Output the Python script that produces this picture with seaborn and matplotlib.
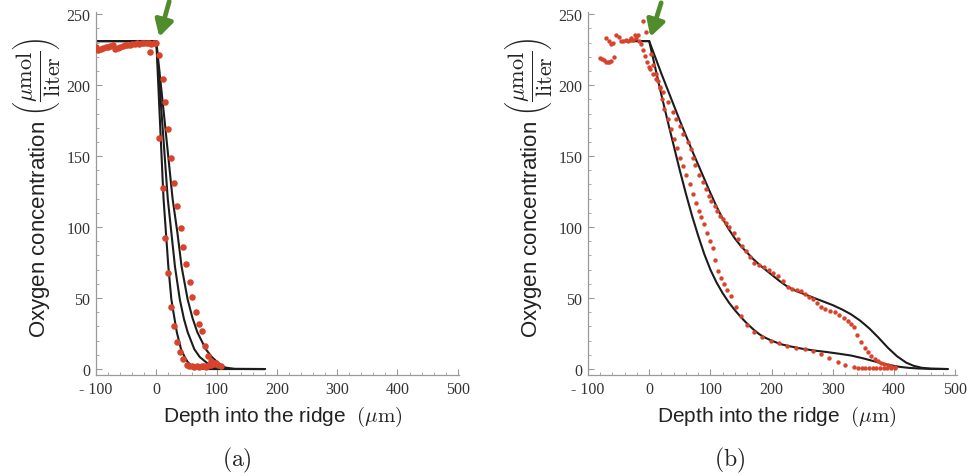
import matplotlib
matplotlib.use("Agg")
import matplotlib.pyplot as plt
import seaborn as sns
import pandas as pd
from matplotlib.ticker import MultipleLocator, FixedLocator, FixedFormatter

# ---------------- data: panel (a) ----------------
a_fit1_x = [-100, 0, 6, 12, 16, 20, 25, 30, 34, 41, 47, 52, 59, 66, 75, 90, 180]
a_fit1_y = [231, 231, 175, 120, 96, 72, 49, 36, 26, 14, 8.5, 5, 2, 0.6, 0.1, 0, 0]
a_fit2_x = [-100, 0, 10, 19, 25, 31, 39, 46, 52, 63, 72, 82, 90, 96, 110, 180]
a_fit2_y = [231, 231, 173, 120, 96, 72, 49, 35, 26, 14, 8.5, 5, 2.5, 1, 0.1, 0]
a_fit3_x = [-100, 0, 14, 27, 35, 42, 52, 60, 68, 82, 92, 101, 108, 115, 130, 180]
a_fit3_y = [231, 231, 174, 120, 96, 72, 49, 36, 26, 14, 8.5, 5, 2.5, 1, 0.1, 0]

a_pre_x = [-100, -96, -92, -88, -84, -80, -76, -72, -68, -64, -60, -56, -52, -48, -44,
           -40, -36, -32, -28, -24, -20, -16, -12, -8, -4, -1]
a_pre_y = [226.5, 225, 225.5, 226, 226.5, 227, 227.5, 228, 225.5, 226, 226.5, 227.5, 228,
           228, 228.5, 229, 229, 229.5, 229, 229.5, 230, 229.5, 229.5, 229, 229.5, 229.5]
a_out_x = [5, 10.5, 15, 20, 25, 30, 35, 41, 45, 50, 56, 60, 66, 70, 75.5, 80.5, 85, 90,
           95, 99, 103, 107]
a_out_y = [221.5, 204, 188, 169, 149, 131, 115, 99, 86, 74, 61, 50.5, 40, 32, 26.5, 16,
           9.5, 6, 4, 4.5, 3, 2]
a_in_x = [-10, 5, 10.5, 15, 20, 25, 30, 35, 40, 45, 51, 55, 59, 63, 67, 71, 75, 79, 83,
          87, 91, 95]
a_in_y = [223, 163, 127.5, 92, 68, 44, 30, 19, 12, 7, 3, 2, 2, 1.5, 2, 1.5, 2, 2, 1.5,
          2.5, 3, 3.5]

# ---------------- data: panel (b) ----------------
b_fit1_x = [-45, 0, 10, 20, 30, 40, 50, 60, 70, 80, 90, 100, 110, 120, 130, 140, 150,
            160, 170, 180, 190, 200, 215, 230, 250, 270, 290, 310, 330, 350, 370, 390,
            410, 425, 440, 460, 488]
b_fit1_y = [231, 231, 212, 193, 175, 157.5, 140, 123.5, 108, 94, 81, 70, 61, 53.5, 47,
            41.5, 36.5, 32, 28, 24.5, 22, 20, 17.5, 16, 14.3, 13, 12, 10.8, 9.5, 7.5,
            5.2, 3, 1.5, 0.8, 0.4, 0.1, 0]
b_fit2_x = [-45, 0, 10, 20, 30, 40, 50, 60, 70, 80, 90, 100, 110, 120, 130, 140, 150,
            160, 170, 180, 190, 200, 213, 226, 240, 255, 270, 285, 300, 315, 330, 345,
            360, 375, 390, 405, 420, 432, 445, 460, 488]
b_fit2_y = [231, 231, 219.5, 208, 197, 186, 175, 164.5, 154, 144, 134, 124, 114.5, 106,
            98.5, 92, 86.5, 82, 77.5, 73.5, 70, 66.5, 62, 58, 55, 52.5, 50, 47.5, 45, 42,
            38.5, 34, 28.5, 22, 15, 9, 4.5, 2.3, 0.9, 0.3, 0]

b_pre_x = [-80, -77, -74, -71, -68, -65, -62, -57, -70, -66, -63, -59, -54, -50, -46,
           -42, -38, -35, -31, -29, -26, -24, -21, -18, -16, -10, -5]
b_pre_y = [219, 218.5, 218, 216.5, 216, 216.5, 217, 219.5, 233, 231, 229, 230, 235, 234,
           231, 231, 232, 231, 232, 233, 232, 235, 233, 235, 231, 245, 237.5]
b_lo_x = [-14, -10, -7.6, -4, -1, 2, 6, 11, 17, 21, 25, 30, 36, 41, 46, 51, 56, 60.5, 66,
          71, 77, 81, 85, 90, 95, 100, 104, 108, 112, 117, 122, 127, 134, 142, 150, 160,
          172, 185, 199, 212, 226, 240, 254, 267, 281, 294, 308, 320, 335, 341, 347, 353,
          359, 365, 371, 377, 383, 389, 395, 401]
b_lo_y = [229, 225, 220.6, 216, 213, 211, 208, 204, 198, 190, 183, 176, 169, 162, 156,
          149, 143, 137, 130, 123, 117, 111.5, 107, 102, 96, 90, 85, 77, 69, 64, 60, 56,
          51.6, 44, 37.5, 31, 26, 22.5, 20, 18, 16.4, 15, 14, 12.5, 10.6, 8, 4.7, 2.5,
          1.2, 1, 1, 1, 1, 1, 1, 1, 1, 1, 1, 1]
b_hi_x = [3, 7, 11, 15, 18, 22, 30.5, 38.7, 44, 51, 56, 63, 67.5, 71, 75, 82, 88, 93,
          98.5, 101, 107, 111, 116.5, 120, 126, 131, 138, 145, 152, 158, 165, 172, 180,
          188, 195, 202, 210, 218, 226.6, 234, 241, 248, 255, 261, 267.5, 274, 281, 288,
          295, 303, 310, 318, 325, 330, 335, 340, 346, 352, 358, 363, 369, 374, 379, 384,
          390, 395, 401]
b_hi_y = [222, 214, 208, 203, 199, 195, 188, 181, 176, 171, 165.5, 160, 155, 149, 143.7,
          137, 131.5, 127, 122, 118.5, 115, 111.5, 108, 105.6, 103, 99.8, 95.5, 91.5, 87,
          83, 79, 75, 73, 71.6, 70, 68, 65.7, 62, 57.5, 56.5, 56, 55, 53, 51, 49.3, 46.5,
          43.4, 42, 41, 40, 38, 36, 34, 32, 29.3, 24, 18.8, 15, 12, 9.4, 7, 5.5, 4.5, 3.5,
          2.5, 1.8, 1.2]

# ---------------- style ----------------
sns.set_theme(style="white")
plt.rcParams['font.family'] = ['Liberation Sans', 'DejaVu Sans']
plt.rcParams['mathtext.fontset'] = 'cm'

W, H = 969, 477
fig = plt.figure(figsize=(W / 100, H / 100), dpi=100)

RED = '#d8432b'
LINE = '#1c1c1c'
GREEN = '#4f8c2c'
AXC = '#9a9a9a'


def px_axes(x0, x1, y0, y1):
    return [x0 / W, 1 - y1 / H, (x1 - x0) / W, (y1 - y0) / H]


def style_axis(ax, xlim):
    ax.set_xlim(*xlim)
    ax.set_ylim(-4.2, 251.5)
    for s in ['top', 'right']:
        ax.spines[s].set_visible(False)
    for s in ['left', 'bottom']:
        ax.spines[s].set_color(AXC)
        ax.spines[s].set_linewidth(0.9)
    xt = [-100, 0, 100, 200, 300, 400, 500]
    ax.xaxis.set_major_locator(FixedLocator(xt))
    ax.xaxis.set_major_formatter(FixedFormatter(['- 100', '0', '100', '200', '300', '400', '500']))
    ax.xaxis.set_minor_locator(MultipleLocator(20))
    ax.yaxis.set_major_locator(FixedLocator([0, 50, 100, 150, 200, 250]))
    ax.yaxis.set_minor_locator(MultipleLocator(10))
    ax.tick_params(axis='both', which='major', direction='in', length=4, width=0.8,
                   color=AXC, labelsize=11.5, labelcolor='#333333', pad=4)
    ax.tick_params(axis='both', which='minor', direction='in', length=2, width=0.6,
                   color=AXC)
    ax.tick_params(axis='x', which='both', bottom=True)
    ax.tick_params(axis='y', which='both', left=True)
    for lab in ax.get_xticklabels() + ax.get_yticklabels():
        lab.set_fontfamily('Liberation Serif')
    ax.set_xlabel('')
    ax.set_ylabel('')
    ax.patch.set_alpha(0)


# ---------------- panel (a) ----------------
axA = fig.add_axes(px_axes(96, 459, 13, 376))
for fx, fy in [(a_fit1_x, a_fit1_y), (a_fit2_x, a_fit2_y), (a_fit3_x, a_fit3_y)]:
    sns.lineplot(x=fx, y=fy, ax=axA, color=LINE, lw=1.5, sort=False, estimator=None)
for sx, sy in [(a_pre_x, a_pre_y), (a_out_x, a_out_y), (a_in_x, a_in_y)]:
    sns.scatterplot(x=sx, y=sy, ax=axA, color=RED, s=22, linewidth=0, zorder=3)
style_axis(axA, (-100, 502))
axA.annotate('', xy=(5, 234), xytext=(21.5, 259), annotation_clip=False,
             arrowprops=dict(arrowstyle='-|>,head_length=0.8,head_width=0.45',
                             color=GREEN, lw=3.4, shrinkA=0, shrinkB=0))

# ---------------- panel (b) ----------------
axB = fig.add_axes(px_axes(588, 957, 13, 376))
for fx, fy in [(b_fit1_x, b_fit1_y), (b_fit2_x, b_fit2_y)]:
    sns.lineplot(x=fx, y=fy, ax=axB, color=LINE, lw=1.5, sort=False, estimator=None)
for sx, sy in [(b_pre_x, b_pre_y), (b_lo_x, b_lo_y), (b_hi_x, b_hi_y)]:
    sns.scatterplot(x=sx, y=sy, ax=axB, color=RED, s=10, linewidth=0, zorder=3)
style_axis(axB, (-100, 503))
axB.annotate('', xy=(2, 234), xytext=(19.6, 258), annotation_clip=False,
             arrowprops=dict(arrowstyle='-|>,head_length=0.8,head_width=0.45',
                             color=GREEN, lw=3.4, shrinkA=0, shrinkB=0))

# ---------------- labels ----------------
ylab = r'Oxygen concentration $\left(\dfrac{\mu\mathrm{mol}}{\mathrm{liter}}\right)$'
xlab = r'Depth into the ridge  $(\mu\mathrm{m})$'
for cx in [37, 528]:
    fig.text(cx / W, 1 - 188 / H, ylab, rotation=90, ha='center', va='center',
             fontsize=16, color='#222222')
for cx in [283, 777]:
    fig.text(cx / W, 1 - 417 / H, xlab, ha='center', va='center', fontsize=15,
             color='#222222')
fig.text(237 / W, 1 - 460 / H, r'$\mathrm{(a)}$', ha='center', va='center', fontsize=17,
         color='#222222')
fig.text(730 / W, 1 - 460 / H, r'$\mathrm{(b)}$', ha='center', va='center', fontsize=17,
         color='#222222')

fig.savefig('out.png', dpi=100)
